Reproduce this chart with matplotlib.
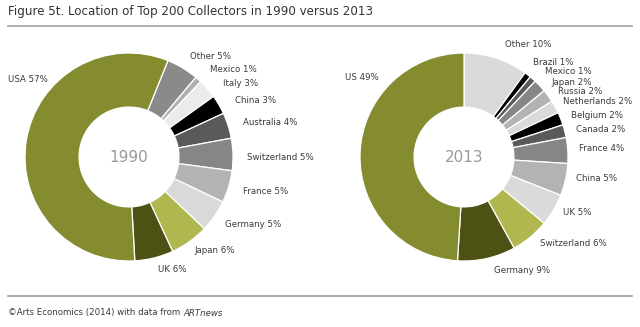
import matplotlib.pyplot as plt
from matplotlib.lines import Line2D

# 1990 data (clockwise, starting from the 'Other' slice)
labels_1990 = ['Other', 'Mexico', 'Italy', 'China', 'Australia', 'Switzerland',
               'France', 'Germany', 'Japan', 'UK', 'USA']
values_1990 = [5, 1, 3, 3, 4, 5, 5, 5, 6, 6, 57]

# 2013 data
labels_2013 = ['Other', 'Brazil', 'Mexico', 'Japan', 'Russia', 'Netherlands',
               'Belgium', 'Canada', 'France', 'China', 'UK', 'Switzerland',
               'Germany', 'US']
values_2013 = [10, 1, 1, 2, 2, 2, 2, 2, 4, 5, 5, 6, 9, 49]

OLIVE = '#858b2f'
DARK_OLIVE = '#4e5114'
LIGHT_OLIVE = '#afb74e'

colors_1990 = ['#8a8a8a', '#b0b0b0', '#ebebeb', '#000000', '#5a5a5a', '#868686',
               '#b3b3b3', '#d9d9d9', LIGHT_OLIVE, DARK_OLIVE, OLIVE]
colors_2013 = ['#dadada', '#000000', '#5a5a5a', '#868686', '#b3b3b3', '#dadada',
               '#000000', '#5a5a5a', '#868686', '#b3b3b3', '#dadada', LIGHT_OLIVE,
               DARK_OLIVE, OLIVE]

# label anchor points (pie radius = 1), left aligned, vertically centred
pos_1990 = [(0.59, 0.97), (0.78, 0.84), (0.90, 0.71), (1.02, 0.54), (1.10, 0.33),
            (1.13, 0.0), (1.10, -0.33), (0.92, -0.65), (0.63, -0.90), (0.28, -1.08),
            (-1.16, 0.75)]
pos_2013 = [(0.39, 1.08), (0.66, 0.91), (0.78, 0.82), (0.84, 0.72), (0.90, 0.625),
            (0.95, 0.53), (1.03, 0.40), (1.08, 0.26), (1.11, 0.08), (1.08, -0.21),
            (0.95, -0.53), (0.73, -0.83), (0.29, -1.09), (-1.14, 0.76)]

W, H = 640, 327
R_PX = 104
HALF = 115

fig = plt.figure(figsize=(6.4, 3.27), dpi=100)
fig.patch.set_facecolor('white')


def draw_donut(cx, cy, labels, values, colors, positions, start, year):
    ax = fig.add_axes([(cx - HALF) / W, (H - cy - HALF) / H, 2 * HALF / W, 2 * HALF / H])
    ax.pie(values, colors=colors, startangle=start, counterclock=False,
           radius=1.0, wedgeprops=dict(width=0.52, edgecolor='white', linewidth=0.9))
    lim = HALF / R_PX
    ax.set_xlim(-lim, lim)
    ax.set_ylim(-lim, lim)
    ax.set_aspect('equal')
    ax.axis('off')
    ax.text(0, 0, year, ha='center', va='center', fontsize=11, color='#9a9a9a')
    for lab, val, (x, y) in zip(labels, values, positions):
        ax.text(x, y, f'{lab} {val}%', ha='left', va='center', fontsize=6.2,
                color='#3a3a3a')


draw_donut(129, 157, labels_1990, values_1990, colors_1990, pos_1990, 68, '1990')
draw_donut(464, 157, labels_2013, values_2013, colors_2013, pos_2013, 90, '2013')

fig.text(8 / W, 1 - 12 / H, 'Figure 5t. Location of Top 200 Collectors in 1990 versus 2013',
         ha='left', va='center', fontsize=8.6, color='#333333')
fig.add_artist(Line2D([8 / W, 632 / W], [1 - 26 / H, 1 - 26 / H], color='#a0a0a0',
                      linewidth=1.2, transform=fig.transFigure))
fig.add_artist(Line2D([8 / W, 632 / W], [1 - 296 / H, 1 - 296 / H], color='#a0a0a0',
                      linewidth=1.2, transform=fig.transFigure))

foot = fig.text(8 / W, 1 - 313 / H, '\u00a9Arts Economics (2014) with data from ',
                ha='left', va='center', fontsize=6.2, color='#3a3a3a')
fig.canvas.draw()
bb = foot.get_window_extent()
fig.text(bb.x1 / W, 1 - 313 / H, 'ARTnews', ha='left', va='center', fontsize=6.2,
         style='italic', color='#3a3a3a')

fig.savefig('out.png', dpi=100, facecolor='white')
